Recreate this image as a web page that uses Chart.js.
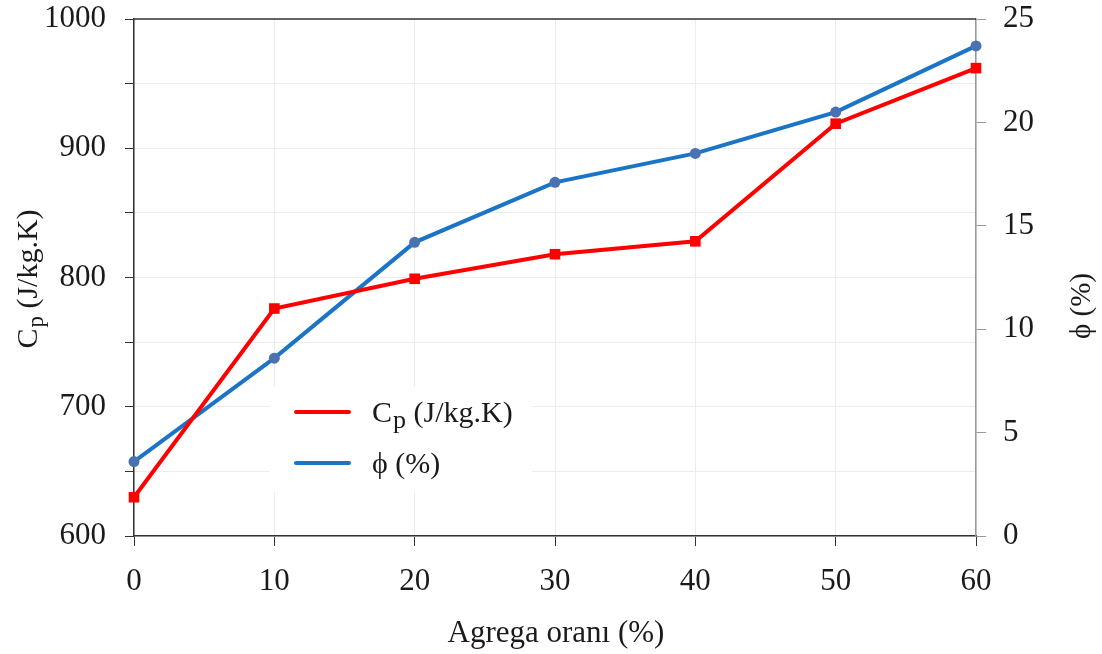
<!DOCTYPE html>
<html>
<head>
<meta charset="utf-8">
<script src="https://cdn.jsdelivr.net/npm/chart.js@4.4.1/dist/chart.umd.min.js"></script>
<style>
html,body{margin:0;padding:0;background:#fff;}
#wrap{width:1102px;height:654px;position:relative;}
</style>
</head>
<body>
<div id="wrap"><canvas id="c" width="1102" height="654"></canvas></div>
<script>
// ---- data ----
const categories = [0, 10, 20, 30, 40, 50, 60];
const cpValues = [630, 776, 799, 818, 828, 919, 962];
const phiValues = [3.6, 8.6, 14.2, 17.1, 18.5, 20.5, 23.7];
const leftTicks = [600, 700, 800, 900, 1000];
const rightTicks = [0, 5, 10, 15, 20, 25];
const cpLabel = 'Cp (J/kg.K)';
const phiLabel = 'ϕ (%)';
const xTitle = 'Agrega oranı (%)';

const FONT = '"Liberation Serif", "Times New Roman", serif';
const TXT = '#1a1a1a';

function drawCp(ctx, x, y, size, subScale) {
  ctx.font = size + 'px ' + FONT;
  ctx.fillText('C', x, y);
  let w = ctx.measureText('C').width;
  ctx.font = Math.round(size * subScale) + 'px ' + FONT;
  ctx.fillText('p', x + w + 1, y + size * 0.2);
  w += ctx.measureText('p').width + 1;
  ctx.font = size + 'px ' + FONT;
  ctx.fillText(' (J/kg.K)', x + w, y);
}
function cpWidth(ctx, size, subScale) {
  ctx.font = size + 'px ' + FONT;
  let w = ctx.measureText('C').width + ctx.measureText(' (J/kg.K)').width;
  ctx.font = Math.round(size * subScale) + 'px ' + FONT;
  return w + ctx.measureText('p').width + 1;
}

const decor = {
  id: 'decor',
  afterDraw(chart) {
    const ctx = chart.ctx;
    const a = chart.chartArea;
    ctx.save();
    // top border
    ctx.strokeStyle = '#333';
    ctx.lineWidth = 1.5;
    ctx.beginPath();
    ctx.moveTo(a.left, a.top);
    ctx.lineTo(a.right, a.top);
    ctx.stroke();

    ctx.fillStyle = TXT;
    ctx.textBaseline = 'alphabetic';
    // left axis title
    ctx.save();
    const lw = cpWidth(ctx, 30, 0.75);
    ctx.translate(37, 279);
    ctx.rotate(-Math.PI / 2);
    ctx.textAlign = 'left';
    drawCp(ctx, -lw / 2, 0, 30, 0.75);
    ctx.restore();

    // right axis title
    ctx.save();
    ctx.translate(1090, 306);
    ctx.rotate(-Math.PI / 2);
    ctx.textAlign = 'center';
    ctx.font = '29px ' + FONT;
    ctx.fillText(phiLabel, 0, 0);
    ctx.restore();

    // x title
    ctx.textAlign = 'center';
    ctx.font = '31px ' + FONT;
    ctx.fillText(xTitle, 556, 642);

    // legend
    ctx.fillStyle = '#fff';
    ctx.fillRect(270, 387, 262, 105);
    const ds = chart.data.datasets;
    const rows = [412, 463];
    ds.forEach((d, i) => {
      ctx.strokeStyle = d.borderColor;
      ctx.lineWidth = 4;
      ctx.lineCap = 'round';
      ctx.beginPath();
      ctx.moveTo(296, rows[i]);
      ctx.lineTo(349, rows[i]);
      ctx.stroke();
      ctx.fillStyle = TXT;
      ctx.textAlign = 'left';
      ctx.textBaseline = 'alphabetic';
      if (i === 0) {
        drawCp(ctx, 372, rows[i] + 10, 30, 0.85);
      } else {
        ctx.font = '30px ' + FONT;
        ctx.fillText(d.label, 372, rows[i] + 10);
      }
    });
    ctx.restore();
  }
};

const ds1 = categories.map((x, i) => ({ x: x, y: cpValues[i] }));
const ds2 = categories.map((x, i) => ({ x: x, y: phiValues[i] }));

new Chart(document.getElementById('c'), {
  type: 'line',
  data: {
    datasets: [
      {
        label: cpLabel, data: ds1, yAxisID: 'y',
        borderColor: '#ff0000', backgroundColor: '#ff0000',
        borderWidth: 4, pointStyle: 'rect', pointRadius: 7.5,
        pointBorderWidth: 0, tension: 0, clip: false
      },
      {
        label: phiLabel, data: ds2, yAxisID: 'y2',
        borderColor: '#1a75c6', backgroundColor: '#4a72b0',
        pointBackgroundColor: '#4a72b0',
        borderWidth: 4, pointStyle: 'circle', pointRadius: 5.5,
        pointBorderWidth: 0, tension: 0, clip: false
      }
    ]
  },
  options: {
    responsive: false,
    animation: false,
    devicePixelRatio: 1,
    layout: { padding: { top: 19, left: 0, right: 0, bottom: 0 } },
    plugins: { legend: { display: false }, tooltip: { enabled: false } },
    scales: {
      x: {
        type: 'linear', min: 0, max: 60,
        afterFit(s) { s.height = 118; s.paddingLeft = 0; s.paddingRight = 0; },
        afterBuildTicks(s) { s.ticks = categories.map(v => ({ value: v })); },
        ticks: { font: { family: FONT, size: 31 }, color: TXT, padding: 17, maxRotation: 0 },
        grid: { color: '#ececec', lineWidth: 1, tickColor: '#333', tickLength: 10 },
        border: { color: '#333', width: 1.5 }
      },
      y: {
        position: 'left', min: 600, max: 1000,
        afterFit(s) { s.width = 134; s.paddingTop = 0; s.paddingBottom = 0; },
        ticks: {
          stepSize: 50,
          font: { family: FONT, size: 31 }, color: TXT, padding: 19,
          callback: v => (leftTicks.includes(v) ? String(v) : '')
        },
        grid: { color: '#ececec', lineWidth: 1, tickColor: '#333', tickLength: 9 },
        border: { color: '#333', width: 1.5 }
      },
      y2: {
        position: 'right', min: 0, max: 25,
        afterFit(s) { s.width = 126; s.paddingTop = 0; s.paddingBottom = 0; },
        afterBuildTicks(s) { s.ticks = rightTicks.map(v => ({ value: v })); },
        ticks: { font: { family: FONT, size: 31 }, color: TXT, padding: 17 },
        grid: { drawOnChartArea: false, tickColor: '#999', tickLength: 10 },
        border: { color: '#999', width: 1.5 }
      }
    }
  },
  plugins: [decor]
});
</script>
</body>
</html>
